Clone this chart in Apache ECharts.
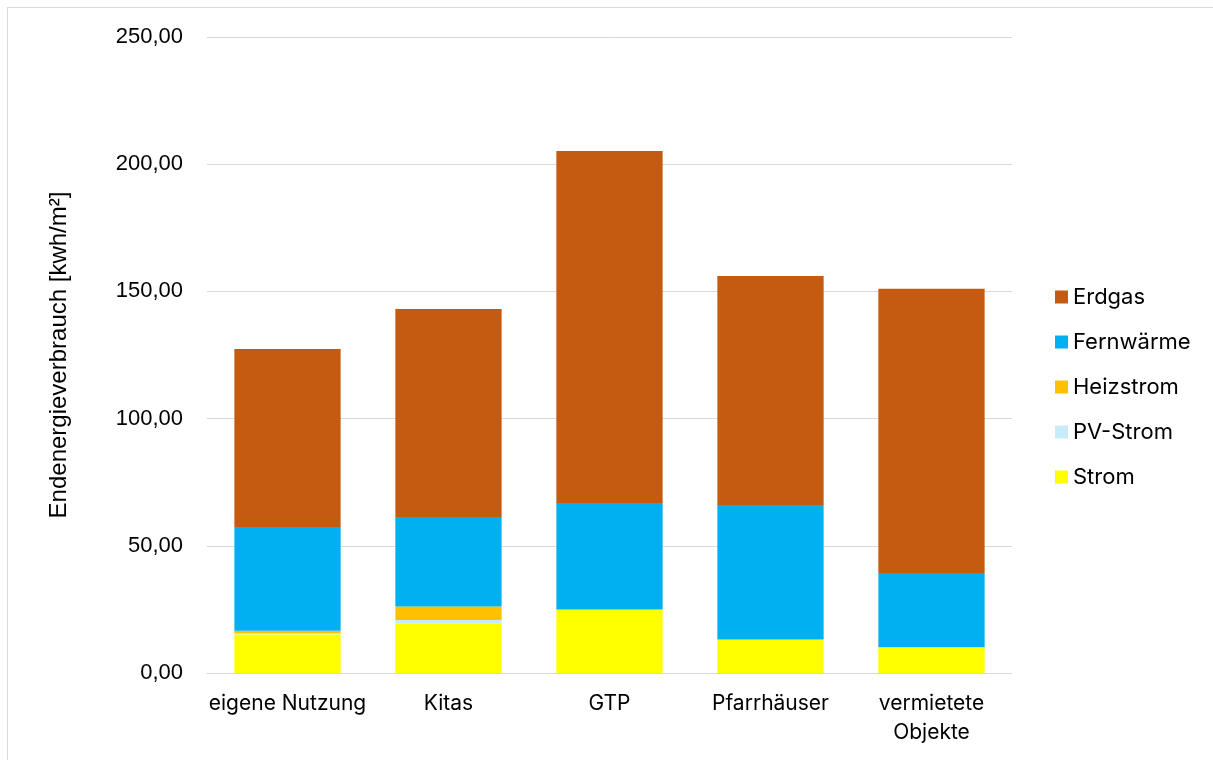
<!DOCTYPE html>
<html>
<head>
<meta charset="utf-8">
<script src="https://cdn.jsdelivr.net/npm/echarts@6/dist/echarts.min.js"></script>
<style>
  html, body { margin: 0; padding: 0; background: #fff; }
  #frame { position: absolute; left: 7px; top: 7px; width: 1220px; height: 770px; border: 1px solid #d9d9d9; box-sizing: border-box; }
  #chart { position: absolute; left: 0; top: 0; width: 1213px; height: 760px; }
</style>
</head>
<body>
<div id="frame"></div>
<div id="chart"></div>
<script>
// Final energy consumption per building group, kWh/m²
const categories = ['eigene Nutzung', 'Kitas', 'GTP', 'Pfarrhäuser', 'vermietete\nObjekte'];
const strom      = [15.2, 19.6, 25.0, 13.2, 10.1];
const pvStrom    = [0.4, 1.2, 0, 0, 0];
const heizstrom  = [1.0, 5.3, 0, 0, 0];
const fernwaerme = [40.8, 35.2, 41.8, 52.8, 29.2];
const erdgas     = [70.0, 81.8, 138.4, 90.1, 111.7];
const yTicks = [0, 50, 100, 150, 200, 250];

const textFont = 'Inter, "Noto Sans", sans-serif';
const numFont = '"Liberation Sans", Arial, sans-serif';

const seriesDefs = [
  { name: 'Strom', data: strom, color: '#ffff00' },
  { name: 'PV-Strom', data: pvStrom, color: '#c8ebfa' },
  { name: 'Heizstrom', data: heizstrom, color: '#ffc000' },
  { name: 'Fernwärme', data: fernwaerme, color: '#00b0f0' },
  { name: 'Erdgas', data: erdgas, color: '#c55a11' }
];

const chart = echarts.init(document.getElementById('chart'), null, { renderer: 'canvas' });
chart.setOption({
  animation: false,
  textStyle: { fontFamily: textFont },
  grid: { left: 207, right: 201, top: 37, bottom: 87, containLabel: false },
  legend: {
    orient: 'vertical',
    left: 1055,
    top: 286,
    padding: 0,
    itemWidth: 13,
    itemHeight: 13,
    itemGap: 23,
    icon: 'rect',
    data: ['Erdgas', 'Fernwärme', 'Heizstrom', 'PV-Strom', 'Strom'],
    textStyle: { fontSize: 22, lineHeight: 21, color: '#000', fontFamily: textFont }
  },
  xAxis: {
    type: 'category',
    data: categories,
    axisTick: { show: false },
    axisLine: { lineStyle: { color: '#d9d9d9', width: 1 } },
    axisLabel: { interval: 0, fontSize: 21, color: '#000', margin: 16, lineHeight: 29, fontFamily: textFont }
  },
  yAxis: {
    type: 'value',
    min: yTicks[0],
    max: yTicks[yTicks.length - 1],
    interval: 50,
    name: 'Endenergieverbrauch [kwh/m²]',
    nameLocation: 'middle',
    nameGap: 136,
    nameTextStyle: { fontSize: 24, color: '#000', fontFamily: numFont },
    axisLine: { show: false },
    axisTick: { show: false },
    splitLine: { lineStyle: { color: '#d9d9d9', width: 1 } },
    axisLabel: {
      fontSize: 22, color: '#000', margin: 24, fontFamily: numFont,
      formatter: v => v.toFixed(2).replace('.', ',')
    }
  },
  series: seriesDefs.map(s => ({
    name: s.name,
    type: 'bar',
    stack: 'total',
    barWidth: '66%',
    data: s.data,
    itemStyle: { color: s.color },
    emphasis: { disabled: true }
  }))
});
</script>
</body>
</html>
